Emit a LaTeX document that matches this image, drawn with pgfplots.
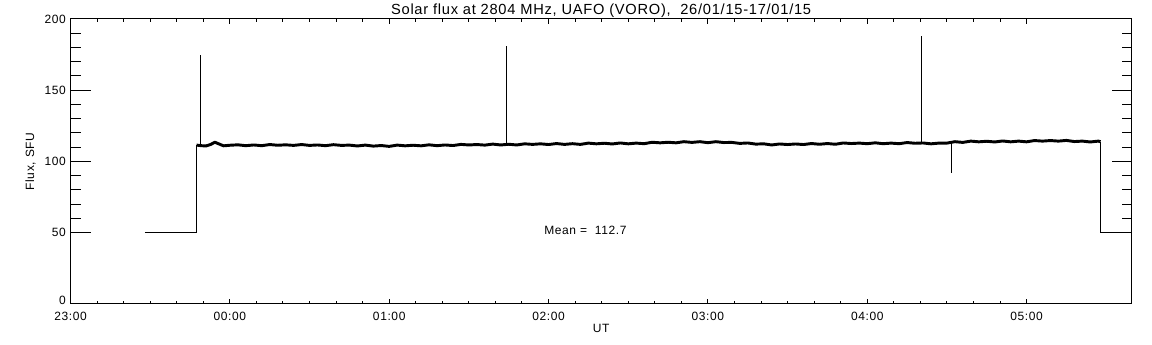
\documentclass[border=0pt]{standalone}
\usepackage{fontspec}
\setmainfont[LetterSpace=5]{Liberation Sans}
\usepackage{pgfplots}
\pgfplotsset{compat=1.18}
\begin{document}
\begin{tikzpicture}
\useasboundingbox (-52.9pt,-30.75pt) rectangle (811.1pt,228pt);
\pgfplotsset{
  common/.style={
    scale only axis, width=795.9pt, height=213.75pt,
    at={(0,0)}, anchor=south west,
    xmin=-1, xmax=5.66, ymin=0, ymax=200,
    axis line style={line width=0.75pt, black},
    tick style={line width=0.75pt, black},
    minor tick style={line width=0.75pt, black},
    tick align=inside,
    /pgf/number format/assume math mode=true,
    tick label style={font=\fontsize{9}{10}\selectfont},
  }
}
% axis with y ticks, data, title, ylabel
\begin{axis}[common,
  xtick=\empty,
  ytick={50,100,150,200},
  extra y ticks={0},
  extra y tick style={yticklabel style={yshift=2.5pt}},
  minor y tick num=4,
  major tick length=15pt, minor tick length=7.5pt,
  ylabel={Flux, SFU},
  ylabel style={at={(axis description cs:-0.0377,0.5)}, anchor=center, font=\fontsize{9}{10}\selectfont},
  title={Solar flux at 2804 MHz, UAFO (VORO),\ \ 26/01/15-17/01/15},
  every axis title/.style={at={(axis description cs:0.5,1)}, anchor=base, yshift=3.2pt, font=\fontsize{11}{12}\selectfont},
]
\addplot[black, line width=0.75pt] coordinates {(-0.533,50) (-0.209,50) (-0.209,111.5)};
\addplot[black, line width=0.75pt] coordinates {(5.464,113.9) (5.464,50) (5.7,50)};
\addplot[black, line width=0.75pt] coordinates {(-0.182,111.2) (-0.182,175)};
\addplot[black, line width=0.75pt] coordinates {(1.733,112.5) (1.733,181)};
\addplot[black, line width=0.75pt] coordinates {(4.341,113.0) (4.341,188)};
\addplot[black, line width=0.75pt] coordinates {(4.526,113.0) (4.526,91.7)};
\addplot[black, line width=2.2pt, line join=round] coordinates {
(-0.209,111.5) (-0.18,111.1) (-0.15,110.9) (-0.12,112.0) (-0.094,113.5) (-0.07,112.4) (-0.04,111.0) (0.00,111.4)
(0.05,111.7) (0.10,111.1) (0.15,111.6) (0.20,111.1) (0.25,111.9) (0.30,111.4) (0.35,111.7) (0.40,111.3)
(0.45,111.9) (0.50,111.3) (0.55,111.6) (0.60,111.1) (0.65,111.8) (0.70,111.3) (0.75,111.5) (0.80,110.9)
(0.85,111.5) (0.90,110.8) (0.95,111.2) (1.00,110.6) (1.05,111.5) (1.10,111.0) (1.15,111.4) (1.20,111.0)
(1.25,111.7) (1.30,111.1) (1.35,111.6) (1.40,111.2) (1.45,112.0) (1.50,111.6) (1.55,111.9) (1.60,111.5)
(1.65,112.2) (1.70,111.6) (1.75,112.1) (1.80,111.6) (1.85,112.4) (1.90,112.0) (1.95,112.4) (2.00,111.9)
(2.05,112.6) (2.10,112.0) (2.15,112.5) (2.20,112.0) (2.25,112.9) (2.30,112.4) (2.35,112.8) (2.40,112.3)
(2.45,113.0) (2.50,112.4) (2.55,112.9) (2.60,112.5) (2.65,113.5) (2.70,113.1) (2.75,113.5) (2.80,113.1)
(2.85,113.9) (2.90,113.4) (2.95,113.9) (3.00,113.2) (3.05,113.9) (3.10,113.3) (3.15,113.4) (3.20,112.7)
(3.25,113.0) (3.30,112.2) (3.35,112.4) (3.40,111.6) (3.45,112.3) (3.50,111.9) (3.55,112.3) (3.60,111.9)
(3.65,112.6) (3.70,112.1) (3.75,112.6) (3.80,112.1) (3.85,113.0) (3.90,112.6) (3.95,112.9) (4.00,112.5)
(4.05,113.1) (4.10,112.5) (4.15,112.9) (4.20,112.5) (4.25,113.3) (4.30,112.8) (4.35,113.0) (4.40,112.4)
(4.45,112.9) (4.50,112.9) (4.55,113.9) (4.60,113.4) (4.65,114.3) (4.70,113.8) (4.75,114.2) (4.80,113.7)
(4.85,114.4) (4.90,113.8) (4.95,114.3) (5.00,113.8) (5.05,114.7) (5.10,114.3) (5.15,114.7) (5.20,114.3)
(5.25,114.8) (5.30,114.0) (5.35,114.3) (5.40,113.7) (5.45,114.3) (5.464,113.9)
};
\node[anchor=west, font=\fontsize{9}{10}\selectfont] at (axis cs:1.944,51.9) {Mean =\ \ 112.7};
\end{axis}
% overlay axis for x ticks
\begin{axis}[common,
  ytick=\empty,
  xtick={-1,0,1,2,3,4,5},
  xticklabels={23:00,00:00,01:00,02:00,03:00,04:00,05:00},
  xticklabel style={yshift=-2.25pt},
  minor x tick num=5,
  major tick length=3.75pt, minor tick length=1.9pt,
  xlabel={UT},
  xlabel style={at={(axis description cs:0.5,0)}, yshift=-18pt, anchor=center, font=\fontsize{9}{10}\selectfont},
]
\end{axis}
\end{tikzpicture}
\end{document}
